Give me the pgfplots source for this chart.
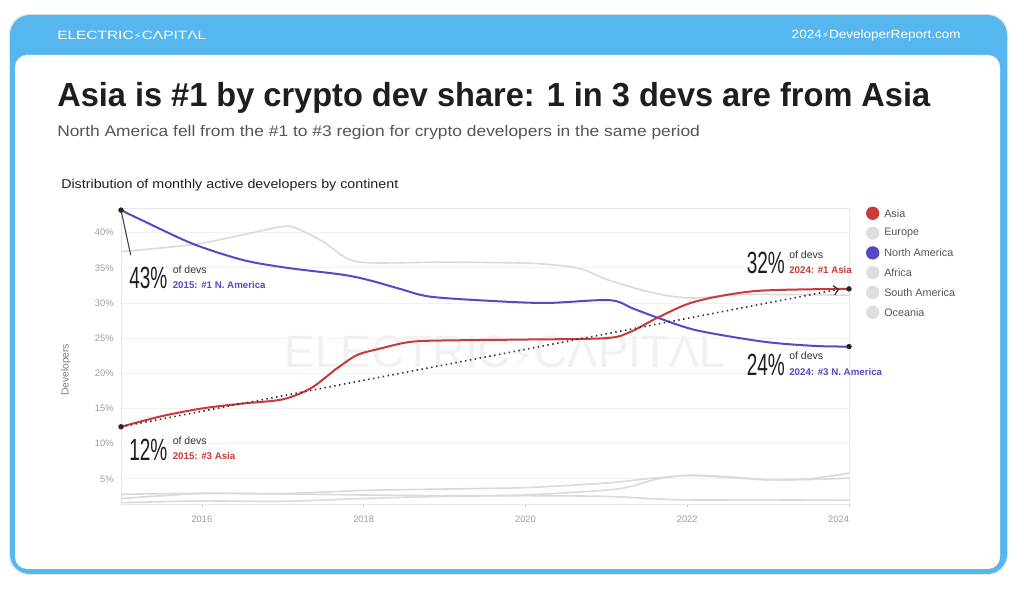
\documentclass[border=0pt]{standalone}
\usepackage{pgfplots}
\pgfplotsset{compat=1.18}
\usepackage{fontspec}
\usepackage{graphicx}
\setmainfont{Liberation Sans}
\newfontfamily\djv{DejaVu Sans}
\newfontfamily\bignum[FakeStretch=0.62]{Liberation Sans}
\usetikzlibrary{arrows.meta}
\definecolor{frameblue}{HTML}{56B7EE}
\definecolor{asiared}{HTML}{C93A3A}
\definecolor{nablue}{HTML}{5848C4}
\definecolor{lgray}{HTML}{DADADA}
\definecolor{legray}{HTML}{DCDEE2}
\definecolor{tickgray}{HTML}{9C9C9C}
\definecolor{titlecol}{HTML}{1E1E1E}
\definecolor{subcol}{HTML}{555555}
\definecolor{wm}{HTML}{F1F1F1}
\newcommand{\bolt}{{\djv\scalebox{0.75}{⚡}}}
\begin{document}
\begin{tikzpicture}[x=0.75pt,y=0.75pt]
% background and frame
\fill[white] (0,0) rectangle (1024,599);
\fill[black!10, rounded corners=15pt] (9,24) rectangle (1008,585);
\fill[frameblue, rounded corners=15pt] (10,25) rectangle (1007,584);
\fill[white, rounded corners=9pt] (15,30) rectangle (1000,544);
% header
\node[anchor=west, text=white, inner sep=0] at (57,564) {\resizebox{111.75pt}{\height}{\fontsize{9}{11}\selectfont ELECTRIC\bolt C\char"039B PIT\char"039B L}};
\node[anchor=east, text=white, inner sep=0] at (961,564) {\resizebox{126.75pt}{\height}{\fontsize{9}{11}\selectfont 2024\bolt DeveloperReport.com}};
% titles
\node[anchor=base west, inner sep=0, text=titlecol] at (57,492) {\resizebox{654.75pt}{\height}{\fontsize{25}{28}\selectfont\bfseries Asia is \#1 by crypto dev share: 1 in 3 devs are from Asia}};
\node[anchor=base west, inner sep=0, text=subcol] at (57,462.5) {\resizebox{482pt}{\height}{\fontsize{11.5}{13}\selectfont North America fell from the \#1 to \#3 region for crypto developers in the same period}};
\node[anchor=base west, inner sep=0, text=titlecol] at (61,410.5) {\resizebox{252.75pt}{\height}{\fontsize{9.6}{11}\selectfont Distribution of monthly active developers by continent}};
% watermark
\node[inner sep=0, text=wm] at (505,247) {\resizebox{330pt}{\height}{\fontsize{34}{36}\selectfont ELECTRIC\bolt C\char"039B PIT\char"039B L}};
\begin{axis}[
  at={(90.75pt,71.25pt)}, anchor=south west,
  scale only axis, width=546pt, height=222pt,
  xmin=2015, xmax=2024, ymin=1.42, ymax=43.5,
  clip=false,
  axis line style={draw=black!9, line width=0.6pt},
  xtick={2016,2018,2020,2022,2024},
  xticklabels={2016,2018,2020,2022,\makebox[0pt][r]{2024}},
  ytick={5,10,15,20,25,30,35,40},
  yticklabel={\pgfmathprintnumber{\tick}\%},
  /pgf/number format/assume math mode=true,
  ymajorgrids, major grid style={draw=black!5, line width=0.6pt},
  ytick style={draw=none},
  xtick pos=lower,
  xtick style={draw=black!25, line width=0.5pt},
  xtick align=outside, major tick length=2.25pt,
  tick label style={font=\fontsize{7}{8}\selectfont, text=tickgray},
  yticklabel style={xshift=-2pt},
  xticklabel style={yshift=-3pt},
  every axis y label/.style={at={(axis description cs:-0.0755,0.453)}, rotate=90, anchor=center, font=\fontsize{7.7}{9}\selectfont, text=black!50},
  ylabel={Developers},
]
% Oceania
\addplot[lgray, line width=1.2pt, smooth] coordinates {(2015,1.6) (2016,1.85) (2017,1.8) (2018,2.2) (2019,2.5) (2020,2.6) (2021,2.5) (2021.6,2.15) (2022,2.0) (2023,2.0) (2024,1.95)};
% Africa
\addplot[lgray, line width=1.2pt, smooth] coordinates {(2015,2.2) (2016,2.9) (2017,2.85) (2018,2.7) (2019,2.6) (2020,2.7) (2021,3.4) (2021.3,3.9) (2021.6,4.9) (2022,5.5) (2022.5,5.3) (2023,4.9) (2023.5,4.9) (2024,5.1)};
% South America
\addplot[lgray, line width=1.2pt, smooth] coordinates {(2015,2.8) (2016,2.95) (2017,2.9) (2018,3.35) (2019,3.55) (2020,3.75) (2021,4.4) (2021.5,5.0) (2022,5.45) (2022.5,5.2) (2023,4.85) (2023.5,5.0) (2024,5.8)};
% Europe
\addplot[lgray, line width=1.2pt, smooth] coordinates {(2015,37.3) (2015.89,38.3) (2016.51,39.7) (2016.96,40.8) (2017.15,40.7) (2017.5,38.7) (2017.8,36.3) (2018.1,35.7) (2019,35.8) (2019.86,35.7) (2020.26,35.5) (2020.67,34.9) (2021.04,33.2) (2021.45,31.8) (2021.78,31.0) (2022.1,30.7) (2022.73,31.2) (2024,31.1)};
% North America
\addplot[nablue, line width=1.5pt, smooth] coordinates {(2015,43.2) (2015.27,41.7) (2015.89,38.4) (2016.51,36.1) (2017.05,35.0) (2017.75,34.0) (2018.08,33.2) (2018.45,32.0) (2018.82,30.9) (2019.56,30.3) (2020.26,30.0) (2021.04,30.4) (2021.33,29.2) (2021.66,27.8) (2022.12,26.1) (2022.94,24.5) (2023.56,23.9) (2024,23.8)};
% Asia
\addplot[asiared, line width=1.5pt, smooth] coordinates {(2015,12.4) (2015.5,13.9) (2016,15.0) (2016.5,15.7) (2017,16.3) (2017.35,17.9) (2017.67,20.7) (2017.92,22.6) (2018.2,23.5) (2018.6,24.5) (2019.2,24.7) (2020,24.8) (2021,25.0) (2021.3,25.9) (2021.65,28.0) (2022.1,30.2) (2022.85,31.7) (2024,32.0)};
% trend
\addplot[black!80, line width=1.2pt, dash pattern=on 1.1pt off 2.6pt, -{Straight Barb[length=3.5pt,width=7pt,line width=0.9pt]}] coordinates {(2015,12.4) (2023.88,31.95)};
\draw[black!75, line width=0.8pt] (axis cs:2015,43.2) -- (axis cs:2015.12,36.8);
\addplot[only marks, mark=*, mark size=1.8pt, black!85] coordinates {(2015,43.2) (2015,12.4) (2024,32.0) (2024,23.8)};
\end{axis}
% annotations
\node[anchor=base west, inner sep=0, text=titlecol] at (129,310) {\fontsize{23}{24}\bignum 43\%};
\node[anchor=base west, inner sep=0, text=black!80] at (172.5,325.5) {\fontsize{7.9}{9}\selectfont of devs};
\node[anchor=base west, inner sep=0, text=nablue] at (172.5,310) {\fontsize{7.3}{9}\selectfont\bfseries 2015: \#1 N. America};
\node[anchor=base west, inner sep=0, text=titlecol] at (129,138.5) {\fontsize{23}{24}\bignum 12\%};
\node[anchor=base west, inner sep=0, text=black!80] at (172.5,154.5) {\fontsize{7.9}{9}\selectfont of devs};
\node[anchor=base west, inner sep=0, text=asiared] at (172.5,139) {\fontsize{7.3}{9}\selectfont\bfseries 2015: \#3 Asia};
\node[anchor=base west, inner sep=0, text=titlecol] at (746.5,325) {\fontsize{23}{24}\bignum 32\%};
\node[anchor=base west, inner sep=0, text=black!80] at (789,340.5) {\fontsize{7.9}{9}\selectfont of devs};
\node[anchor=base west, inner sep=0, text=asiared] at (789,325) {\fontsize{7.3}{9}\selectfont\bfseries 2024: \#1 Asia};
\node[anchor=base west, inner sep=0, text=titlecol] at (746.5,223.3) {\fontsize{23}{24}\bignum 24\%};
\node[anchor=base west, inner sep=0, text=black!80] at (789,239) {\fontsize{7.9}{9}\selectfont of devs};
\node[anchor=base west, inner sep=0, text=nablue] at (789,223) {\fontsize{7.3}{9}\selectfont\bfseries 2024: \#3 N. America};
% legend
\foreach \c/\t/\yy in {asiared/Asia/385.7, legray/Europe/365.9, nablue/North America/346.1, legray/Africa/326.3, legray/South America/306.5, legray/Oceania/286.7} {
  \fill[\c] (872.7,\yy) circle (5pt);
  \node[anchor=west, inner sep=0, text=subcol] at (884,\yy) {\fontsize{8.1}{9}\selectfont \t};
}
\end{tikzpicture}
\end{document}
